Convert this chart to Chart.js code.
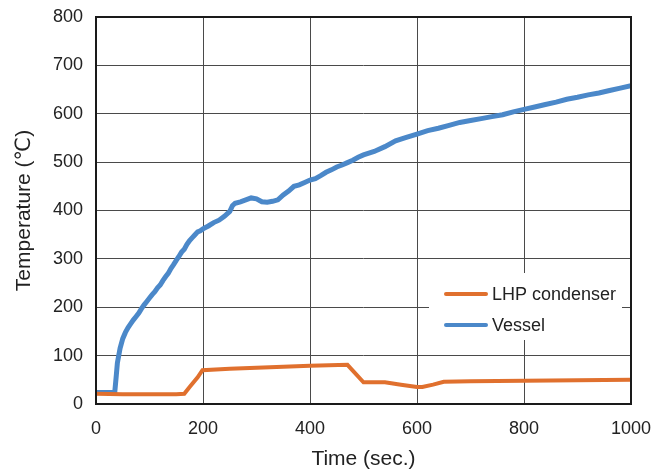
<!DOCTYPE html>
<html>
<head>
<meta charset="utf-8">
<script src="https://cdn.jsdelivr.net/npm/chart.js@4"></script>
<style>
html,body{margin:0;padding:0;background:#fff;}
#wrap{width:660px;height:472px;}
</style>
</head>
<body>
<div id="wrap"><canvas id="c" width="660" height="472"></canvas></div>
<script>
const xTicks = [0, 200, 400, 600, 800, 1000];
const yTicks = [0, 100, 200, 300, 400, 500, 600, 700, 800];

const vesselTimes = [0,10,20,30,35,38,40,45,50,55,60,65,70,75,80,85,90,95,100,105,110,115,120,125,130,135,140,145,150,155,160,165,170,175,180,185,190,195,200,210,220,230,240,250,255,260,270,280,290,300,310,320,330,340,350,360,370,380,390,400,410,420,430,440,450,460,470,480,490,500,520,540,560,580,600,620,640,660,680,700,720,740,760,780,800,820,840,860,880,900,920,940,960,980,1000];
const vesselValues = [24,24,24,24,24,60,85,115,135,148,158,166,174,181,188,197,205,212,219,226,232,240,246,255,263,270,280,288,297,305,314,320,330,338,344,350,356,358,362,368,375,380,388,398,410,415,418,422,426,424,418,417,419,422,432,440,450,453,458,463,466,472,479,484,490,494,499,504,510,515,522,532,544,551,558,565,570,576,582,586,590,594,598,604,609,614,619,624,630,634,639,643,648,653,658];

const condenserTimes = [0,50,100,150,165,175,190,199,250,300,350,400,470,500,540,570,600,610,630,650,700,800,900,1000];
const condenserValues = [21,20,20,20,21,35,55,70,73,75,77,79,81,45,45,40,35,35,40,46,47,48,49,50];

const seriesNames = ["LHP condenser", "Vessel"];
const seriesColors = ["#E0702E", "#4B88C9"];

function pts(xs, ys){ return xs.map((x,i)=>({x:x, y:ys[i]})); }

const FONT = "'Liberation Sans', 'DejaVu Sans', sans-serif";

const legendPlugin = {
  id: 'customLegend',
  beforeDatasetsDraw(chart){
    const ctx = chart.ctx;
    ctx.save();
    ctx.fillStyle = '#fff';
    ctx.fillRect(429, 273, 193, 67);
    const rows = [294, 325];
    chart.data.datasets.forEach((ds, i) => {
      ctx.strokeStyle = ds.borderColor;
      ctx.lineWidth = 4;
      ctx.lineCap = 'round';
      ctx.beginPath();
      ctx.moveTo(446, rows[i]);
      ctx.lineTo(486, rows[i]);
      ctx.stroke();
      ctx.fillStyle = '#222';
      ctx.font = "18px " + FONT;
      ctx.textBaseline = 'middle';
      ctx.textAlign = 'left';
      ctx.fillText(ds.label, 492, rows[i] + 1);
    });
    ctx.restore();
  },
  afterDraw(chart){
    const a = chart.chartArea;
    const ctx = chart.ctx;
    ctx.save();
    ctx.strokeStyle = '#1a1a1a';
    ctx.lineWidth = 2;
    ctx.strokeRect(a.left, a.top, a.right - a.left, a.bottom - a.top);
    ctx.restore();
  }
};

new Chart(document.getElementById('c'), {
  type: 'line',
  data: {
    datasets: [
      { label: seriesNames[0], data: pts(condenserTimes, condenserValues), borderColor: seriesColors[0], backgroundColor: seriesColors[0], borderWidth: 4, pointRadius: 0, tension: 0 },
      { label: seriesNames[1], data: pts(vesselTimes, vesselValues), borderColor: seriesColors[1], backgroundColor: seriesColors[1], borderWidth: 5, pointRadius: 0, tension: 0 }
    ]
  },
  options: {
    responsive: false,
    animation: false,
    layout: { padding: { left: 0, right: 29, top: 17, bottom: 0 } },
    plugins: { legend: { display: false }, tooltip: { enabled: false } },
    scales: {
      x: {
        type: 'linear', min: 0, max: 1000,
        afterBuildTicks(s){ s.ticks = xTicks.map(v=>({value:v})); },
        afterFit(s){ s.height = 68; s.paddingLeft = 0; s.paddingRight = 0; },
        grid: { color: '#4a4a4a', lineWidth: 1, drawTicks: false },
        border: { display: false },
        ticks: { color: '#222', font: { size: 18, family: FONT }, padding: 14, maxRotation: 0, callback: v => String(v) },
        title: { display: true, text: 'Time (sec.)', color: '#222', font: { size: 21, family: FONT }, padding: { top: 2, bottom: 0 } }
      },
      y: {
        type: 'linear', min: 0, max: 800,
        afterBuildTicks(s){ s.ticks = yTicks.map(v=>({value:v})); },
        afterFit(s){ s.width = 96; s.paddingTop = 0; s.paddingBottom = 0; },
        grid: { color: '#4a4a4a', lineWidth: 1, drawTicks: false },
        border: { display: false },
        ticks: { color: '#222', font: { size: 18, family: FONT }, padding: 13, callback: v => String(v) },
        title: { display: true, text: 'Temperature (℃)', color: '#222', font: { size: 21, family: FONT }, padding: { top: 12, bottom: 0 } }
      }
    }
  },
  plugins: [legendPlugin]
});
</script>
</body>
</html>
